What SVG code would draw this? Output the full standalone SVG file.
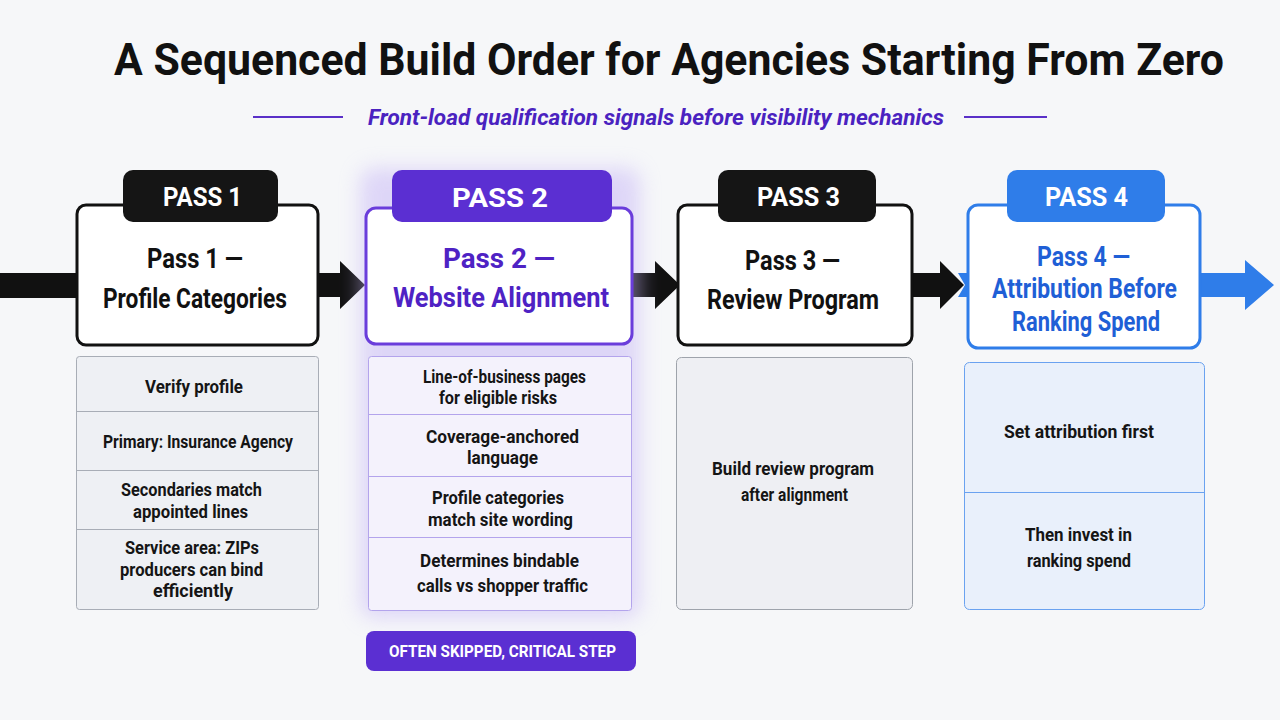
<svg xmlns="http://www.w3.org/2000/svg" width="1280" height="720" viewBox="0 0 1280 720">
  <defs>
    <style>
      .cond { font-family: "Roboto", "Liberation Sans", sans-serif; }
      .title { font-size: 44px; font-weight: 700; fill: #111; }
      .sub { font-size: 22px; font-weight: 700; font-style: italic; fill: #4a22c0; }
      .tab { font-size: 25px; font-weight: 700; fill: #fff; }
      .head { font-size: 28px; font-weight: 700; }
      .body { font-size: 19px; font-weight: 700; fill: #151515; }
      .badge { font-size: 16px; font-weight: 700; fill: #fff; }
      .card { fill: #fff; stroke-width: 3; }
    </style>
    <filter id="glow" x="-30%" y="-30%" width="160%" height="160%">
      <feGaussianBlur stdDeviation="10"/>
    </filter>
  </defs>

  <rect width="1280" height="720" fill="#f6f7f9"/>

  <!-- heading -->
  <g id="title">
    <text class="cond title" x="669" y="75" text-anchor="middle" textLength="1110" lengthAdjust="spacingAndGlyphs">A Sequenced Build Order for Agencies Starting From Zero</text>
    <line x1="253" y1="117" x2="343" y2="117" stroke="#5a30c8" stroke-width="2"/>
    <line x1="964" y1="117" x2="1047" y2="117" stroke="#5a30c8" stroke-width="2"/>
    <text class="cond sub" x="656" y="125" text-anchor="middle" textLength="576" lengthAdjust="spacingAndGlyphs">Front-load qualification signals before visibility mechanics</text>
  </g>

  <!-- flow arrows between passes -->
  <g id="connectors">
    <rect x="0" y="273" width="78" height="25" fill="#111"/>
    <path d="M317 273 H340 V261 L365 285 L340 309 V297 H317 Z" fill="#111"/>
    <path d="M631 273 H655 V261 L680 285 L655 309 V297 H631 Z" fill="#111"/>
    <path d="M911 273 H940 V261 L964 285 L940 309 V297 H911 Z" fill="#111"/>
    <path d="M958 273 L968 273 L968 297 L958 297 L965 285 Z" fill="#2f7de9"/>
    <path d="M1199 273 H1245 V260 L1274 285 L1245 310 V297 H1199 Z" fill="#2f7de9"/>
  </g>

  <!-- Pass 1 -->
  <g id="pass1">
    <rect class="card" x="77" y="205" width="241" height="140" rx="9" stroke="#111"/>
    <rect x="123" y="170" width="155" height="52" rx="10" fill="#151515"/>
    <text class="cond tab" x="202.500" y="206" text-anchor="middle" textLength="79" lengthAdjust="spacingAndGlyphs">PASS 1</text>
    <text class="cond head" x="195" y="268" text-anchor="middle" fill="#111" textLength="96" lengthAdjust="spacingAndGlyphs">Pass 1 —</text>
    <text class="cond head" x="195" y="308" text-anchor="middle" fill="#111" textLength="184" lengthAdjust="spacingAndGlyphs">Profile Categories</text>
    <rect x="76.500" y="356.500" width="242" height="253" rx="3" fill="#eef0f4" stroke="#a8adb6"/>
    <g stroke="#a8adb6" stroke-width="1">
      <line x1="77" y1="411.500" x2="318" y2="411.500"/>
      <line x1="77" y1="470.500" x2="318" y2="470.500"/>
      <line x1="77" y1="529.500" x2="318" y2="529.500"/>
    </g>
    <g class="cond body" text-anchor="middle">
      <text x="194" y="393" textLength="98" lengthAdjust="spacingAndGlyphs">Verify profile</text>
      <text x="198" y="448" textLength="190" lengthAdjust="spacingAndGlyphs">Primary: Insurance Agency</text>
      <text x="191.500" y="496" textLength="141" lengthAdjust="spacingAndGlyphs">Secondaries match</text>
      <text x="190.500" y="518" textLength="115" lengthAdjust="spacingAndGlyphs">appointed lines</text>
      <text x="192" y="554" textLength="134" lengthAdjust="spacingAndGlyphs">Service area: ZIPs</text>
      <text x="191.500" y="576" textLength="143" lengthAdjust="spacingAndGlyphs">producers can bind</text>
      <text x="193" y="597" textLength="80" lengthAdjust="spacingAndGlyphs">efficiently</text>
    </g>
  </g>

  <!-- Pass 2 (highlighted) -->
  <g id="pass2">
    <rect x="360" y="168" width="280" height="450" rx="14" fill="#c6b6f6" opacity="0.5" filter="url(#glow)"/>
    <rect class="card" x="366" y="208" width="266" height="136" rx="10" stroke="#6a3ddb"/>
    <rect x="392" y="170" width="220" height="52" rx="10" fill="#5b2fd2"/>
    <text class="cond tab" x="500" y="207" text-anchor="middle" font-size="29" textLength="96" lengthAdjust="spacingAndGlyphs">PASS 2</text>
    <text class="cond head" x="499" y="268" text-anchor="middle" fill="#4e22c4" textLength="112" lengthAdjust="spacingAndGlyphs">Pass 2 —</text>
    <text class="cond head" x="501" y="307" text-anchor="middle" fill="#4e22c4" textLength="216" lengthAdjust="spacingAndGlyphs">Website Alignment</text>
    <rect x="368.500" y="356.500" width="263" height="254" rx="3" fill="#f4f2fc" stroke="#b3a4ec"/>
    <g stroke="#b3a4ec" stroke-width="1">
      <line x1="369" y1="414.500" x2="631" y2="414.500"/>
      <line x1="369" y1="476.500" x2="631" y2="476.500"/>
      <line x1="369" y1="537.500" x2="631" y2="537.500"/>
    </g>
    <g class="cond body" text-anchor="middle">
      <text x="504.500" y="383" textLength="163" lengthAdjust="spacingAndGlyphs">Line-of-business pages</text>
      <text x="498" y="404" textLength="118" lengthAdjust="spacingAndGlyphs">for eligible risks</text>
      <text x="502.500" y="443" textLength="153" lengthAdjust="spacingAndGlyphs">Coverage-anchored</text>
      <text x="502.500" y="464" textLength="71" lengthAdjust="spacingAndGlyphs">language</text>
      <text x="498" y="504" textLength="132" lengthAdjust="spacingAndGlyphs">Profile categories</text>
      <text x="500.500" y="526" textLength="145" lengthAdjust="spacingAndGlyphs">match site wording</text>
      <text x="499.500" y="567" textLength="159" lengthAdjust="spacingAndGlyphs">Determines bindable</text>
      <text x="502.500" y="592" textLength="171" lengthAdjust="spacingAndGlyphs">calls vs shopper traffic</text>
    </g>
    <rect x="366" y="631" width="270" height="40" rx="8" fill="#5b2fd2"/>
    <text class="cond badge" x="502.500" y="657" text-anchor="middle" textLength="227" lengthAdjust="spacingAndGlyphs">OFTEN SKIPPED, CRITICAL STEP</text>
  </g>

  <!-- Pass 3 -->
  <g id="pass3">
    <rect class="card" x="678" y="205" width="234" height="140" rx="9" stroke="#111"/>
    <rect x="718" y="170" width="158" height="52" rx="10" fill="#151515"/>
    <text class="cond tab" x="798.500" y="206" text-anchor="middle" textLength="83" lengthAdjust="spacingAndGlyphs">PASS 3</text>
    <text class="cond head" x="792.500" y="270" text-anchor="middle" fill="#111" textLength="95" lengthAdjust="spacingAndGlyphs">Pass 3 —</text>
    <text class="cond head" x="793" y="309" text-anchor="middle" fill="#111" textLength="172" lengthAdjust="spacingAndGlyphs">Review Program</text>
    <rect x="676.500" y="357.500" width="236" height="252" rx="5" fill="#eeeff3" stroke="#9ea3ab"/>
    <g class="cond body" text-anchor="middle">
      <text x="793" y="475" textLength="162" lengthAdjust="spacingAndGlyphs">Build review program</text>
      <text x="794.500" y="501" textLength="107" lengthAdjust="spacingAndGlyphs">after alignment</text>
    </g>
  </g>

  <!-- Pass 4 -->
  <g id="pass4">
    <rect class="card" x="968" y="205" width="232" height="143" rx="10" stroke="#2f7de9"/>
    <rect x="1007" y="170" width="158" height="52" rx="10" fill="#2f7de9"/>
    <text class="cond tab" x="1086.500" y="206" text-anchor="middle" textLength="83" lengthAdjust="spacingAndGlyphs">PASS 4</text>
    <text class="cond head" x="1083.500" y="266" text-anchor="middle" fill="#1f5fd6" textLength="93" lengthAdjust="spacingAndGlyphs">Pass 4 —</text>
    <text class="cond head" x="1084.500" y="298" text-anchor="middle" fill="#1f5fd6" textLength="185" lengthAdjust="spacingAndGlyphs">Attribution Before</text>
    <text class="cond head" x="1086" y="331" text-anchor="middle" fill="#1f5fd6" textLength="148" lengthAdjust="spacingAndGlyphs">Ranking Spend</text>
    <rect x="964.500" y="362.500" width="240" height="247" rx="5" fill="#e9f0fb" stroke="#6aa2f0"/>
    <line x1="965" y1="492.500" x2="1204" y2="492.500" stroke="#6aa2f0" stroke-width="1"/>
    <g class="cond body" text-anchor="middle">
      <text x="1079" y="438" textLength="150" lengthAdjust="spacingAndGlyphs">Set attribution first</text>
      <text x="1078.500" y="541" textLength="107" lengthAdjust="spacingAndGlyphs">Then invest in</text>
      <text x="1079" y="567" textLength="104" lengthAdjust="spacingAndGlyphs">ranking spend</text>
    </g>
  </g>
</svg>
